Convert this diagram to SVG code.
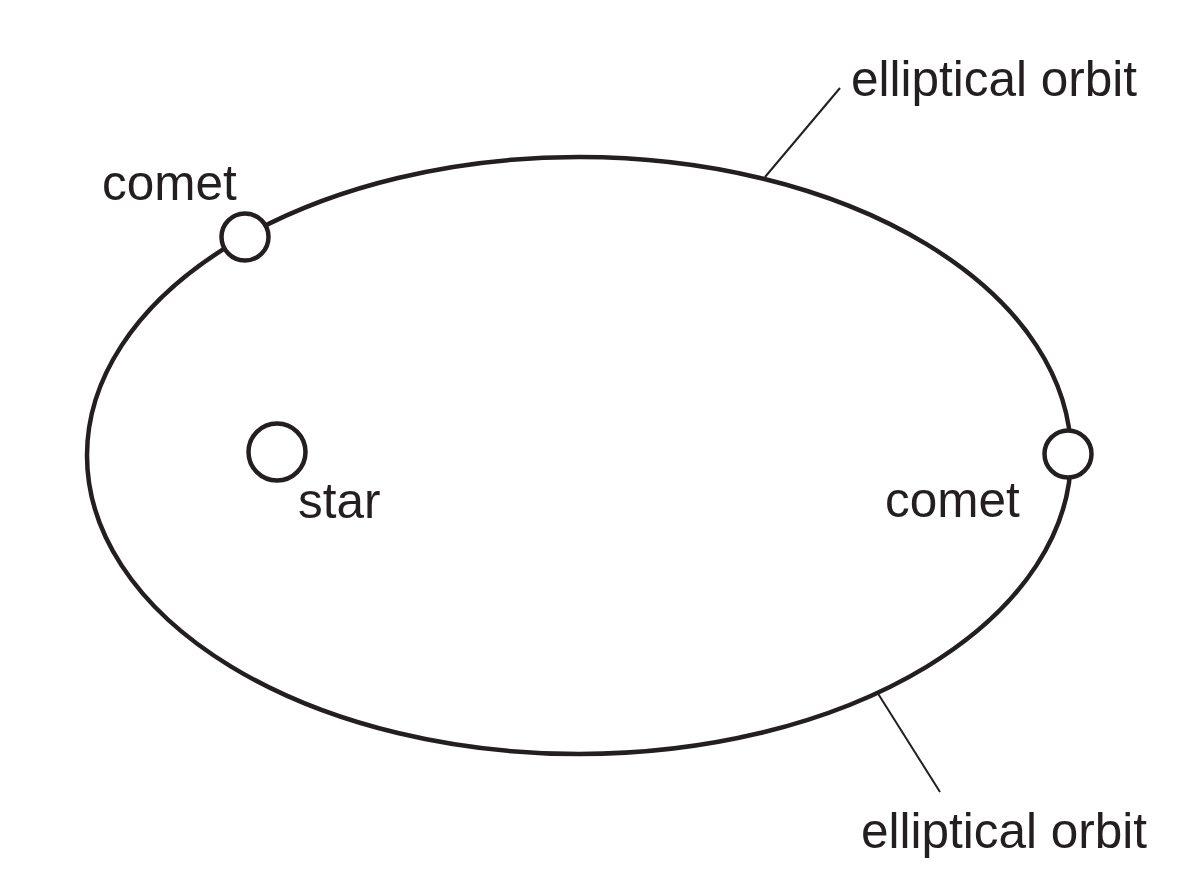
<svg xmlns="http://www.w3.org/2000/svg" width="1200" height="896" viewBox="0 0 1200 896">
<style>
.orbit{fill:none;stroke:#231f20;stroke-width:4.5}
.body{fill:#fff;stroke:#231f20;stroke-width:4.5}
.lead{stroke:#231f20;stroke-width:2;fill:none}
.lbl{font-family:"Liberation Sans",Arial,sans-serif;font-size:49.5px;fill:#231f20}
</style>
<rect width="1200" height="896" fill="#fff"/>
<g id="orbit"><ellipse class="orbit" cx="579" cy="455.5" rx="492" ry="298.5"/></g>
<g id="connectors">
<line class="lead" x1="840" y1="88" x2="765" y2="177"/>
<line class="lead" x1="877" y1="692" x2="940" y2="792"/>
</g>
<g id="comet1"><circle class="body" cx="245" cy="237" r="23.5"/><text class="lbl" x="102" y="200">comet</text></g>
<g id="comet2"><circle class="body" cx="1068" cy="454" r="23.5"/><text class="lbl" x="885" y="517">comet</text></g>
<g id="star"><circle class="body" cx="277" cy="452" r="28.5"/><text class="lbl" x="298" y="518">star</text></g>
<g id="label-top"><text class="lbl" x="851" y="96">elliptical orbit</text></g>
<g id="label-bottom"><text class="lbl" x="861" y="848">elliptical orbit</text></g>
</svg>
